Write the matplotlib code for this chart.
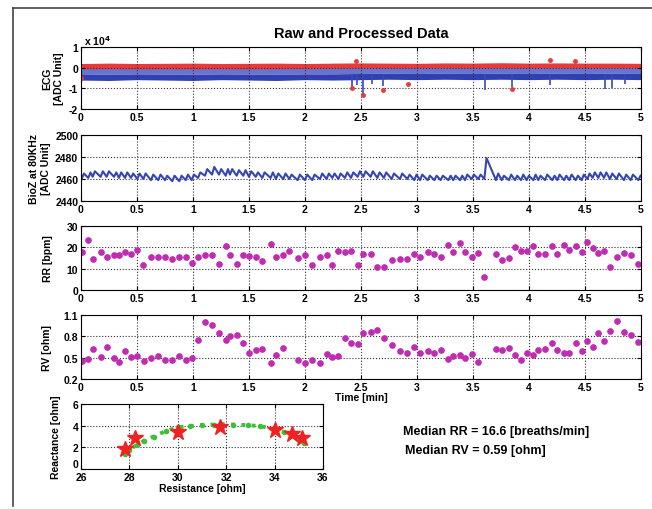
import numpy as np
import matplotlib
matplotlib.use('Agg')
import matplotlib.pyplot as plt
from matplotlib.lines import Line2D

plt.rcParams['font.family'] = ['Liberation Sans', 'DejaVu Sans']
plt.rcParams['font.weight'] = 'bold'

# ECG envelopes (x 10^4), read every 0.25 min
ecg_t = [0, 0.25, 0.5, 0.75, 1.0, 1.25, 1.5, 1.75, 2.0, 2.25, 2.5,
         2.75, 3.0, 3.25, 3.5, 3.75, 4.0, 4.25, 4.5, 4.75, 5.0]
blue_hi = [0.05, 0.06, 0.05, 0.05, 0.06, 0.05, 0.05, 0.06, 0.05, 0.06, 0.07,
           0.06, 0.06, 0.07, 0.06, 0.07, 0.06, 0.07, 0.06, 0.07, 0.06]
blue_mid = [-0.30, -0.32, -0.30, -0.31, -0.32, -0.30, -0.31, -0.32, -0.30, -0.30, -0.28,
            -0.27, -0.28, -0.27, -0.28, -0.27, -0.28, -0.27, -0.28, -0.27, -0.28]
blue_lo = [-0.60, -0.62, -0.58, -0.60, -0.62, -0.58, -0.60, -0.62, -0.58, -0.60, -0.58,
           -0.56, -0.58, -0.56, -0.58, -0.56, -0.58, -0.56, -0.58, -0.56, -0.58]
red_hi = [0.20, 0.22, 0.20, 0.21, 0.22, 0.20, 0.21, 0.22, 0.20, 0.22, 0.23,
          0.22, 0.21, 0.23, 0.22, 0.24, 0.22, 0.23, 0.22, 0.22, 0.21]
red_lo = [-0.06, -0.05, -0.06, -0.05, -0.06, -0.05, -0.06, -0.05, -0.04, -0.03, -0.01,
          -0.01, -0.01, 0.0, -0.01, 0.0, -0.01, 0.0, -0.01, 0.0, -0.01]
spike_t = [2.42, 2.46, 2.52, 2.60, 2.70, 3.61, 3.85, 4.19, 4.68, 4.74, 4.86]
spike_v = [-0.95, -0.85, -1.30, -0.80, -0.90, -1.10, -0.95, -0.85, -1.05, -1.00, -0.80]
red_pt_t = [0.0, 2.42, 2.455, 2.52, 2.70, 2.92, 3.85, 4.19, 4.41]
red_pt_v = [-0.50, -1.00, 0.30, -1.30, -1.08, -0.77, -1.05, 0.38, 0.30]

# breath times (min) and RR (bpm)
rr_t = [0.006, 0.065, 0.104, 0.175, 0.229, 0.295, 0.339, 0.393, 0.446, 0.503,
        0.557, 0.625, 0.690, 0.750, 0.815, 0.878, 0.935, 0.988, 1.045, 1.107,
        1.170, 1.232, 1.292, 1.330, 1.390, 1.449, 1.500, 1.560, 1.619, 1.693,
        1.741, 1.806, 1.860, 1.934, 2.000, 2.065, 2.134, 2.193,
        2.244, 2.298, 2.357, 2.411, 2.470, 2.521, 2.586, 2.646, 2.705, 2.774,
        2.848, 2.914, 2.976, 3.027, 3.095, 3.155, 3.211, 3.280, 3.324, 3.384,
        3.429, 3.488, 3.548, 3.601, 3.705, 3.756, 3.821, 3.875, 3.929, 3.979,
        4.039, 4.083, 4.143, 4.208, 4.253, 4.313, 4.360, 4.417, 4.470, 4.521,
        4.568, 4.619, 4.670, 4.723, 4.783, 4.848, 4.908, 4.976]
rr = [17.6, 23.6, 14.5, 17.6, 15.4, 16.2, 16.5, 18.0, 16.9, 18.9,
      11.5, 15.7, 15.7, 15.7, 14.5, 15.7, 15.3, 12.6, 15.7, 16.5,
      16.5, 12.3, 20.8, 16.5, 12.3, 16.5, 16.0, 15.4, 13.4, 21.6,
      15.7, 16.5, 18.4, 15.0, 16.2, 11.5, 15.7, 16.2,
      11.5, 18.1, 17.8, 18.4, 11.8, 16.9, 16.9, 10.7, 10.6, 13.9,
      14.5, 14.6, 16.9, 15.4, 17.6, 16.9, 15.4, 21.3, 17.6, 22.0,
      17.8, 15.4, 17.3, 6.3, 17.0, 13.9, 15.0, 20.0, 18.4, 18.1,
      20.5, 16.9, 16.9, 20.5, 16.9, 21.3, 18.9, 20.8, 17.6, 22.4,
      19.7, 17.3, 18.4, 11.0, 15.4, 17.3, 16.5, 12.1]

# BioZ trough / peak per breath (ADC)
bioz_lo = [2460, 2461, 2462, 2462, 2462, 2462, 2461, 2461, 2461, 2460,
           2460, 2459, 2459, 2459, 2458, 2458, 2459, 2459, 2461,
           2463, 2464, 2464, 2463, 2464, 2463, 2463, 2462, 2462,
           2461, 2461, 2460, 2460, 2460, 2459, 2459, 2459, 2460, 2460,
           2461, 2460, 2461, 2461, 2462, 2462, 2462, 2461, 2461, 2460,
           2460, 2460, 2459, 2459, 2459, 2459, 2459, 2459, 2459, 2459, 2459, 2460, 2460,
           2460,
           2459, 2459, 2459, 2459, 2459, 2459, 2459, 2459, 2459, 2459, 2459, 2459, 2459, 2459,
           2459, 2460, 2461, 2461, 2461, 2460, 2460, 2459, 2459, 2459]
bioz_hi = [2465, 2466, 2467, 2467, 2467, 2466, 2466, 2466, 2465, 2465,
           2465, 2464, 2464, 2463, 2463, 2463, 2464, 2464, 2466,
           2469, 2471, 2469, 2469, 2469, 2468, 2468, 2467, 2466,
           2466, 2466, 2465, 2465, 2464, 2464, 2464, 2464, 2465, 2465,
           2465, 2465, 2466, 2466, 2467, 2467, 2467, 2466, 2466, 2465,
           2465, 2464, 2464, 2464, 2463, 2463, 2463, 2463, 2463, 2463, 2464, 2464, 2464,
           2479,
           2465, 2463, 2464, 2463, 2464, 2463, 2464, 2463, 2464, 2463, 2464, 2463, 2464, 2463,
           2464, 2465, 2466, 2466, 2466, 2465, 2465, 2464, 2464, 2463]

# RV (ohm)
rv_t = [0.006, 0.065, 0.104, 0.175, 0.229, 0.295, 0.339, 0.393, 0.446, 0.503,
        0.563, 0.625, 0.690, 0.750, 0.815, 0.878, 0.935, 0.988, 1.045, 1.107,
        1.170, 1.232, 1.292, 1.330, 1.396, 1.449, 1.500, 1.560, 1.619, 1.693,
        1.741, 1.806, 1.934, 2.000, 2.065, 2.134, 2.193,
        2.244, 2.298, 2.357, 2.411, 2.470, 2.521, 2.586, 2.646, 2.705, 2.774,
        2.848, 2.914, 2.976, 3.027, 3.095, 3.155, 3.211, 3.280, 3.324, 3.384,
        3.429, 3.488, 3.548, 3.705, 3.756, 3.821, 3.875, 3.929, 3.979, 4.039,
        4.083, 4.143, 4.208, 4.253, 4.313, 4.360, 4.417, 4.470, 4.521, 4.568,
        4.619, 4.670, 4.723, 4.783, 4.848, 4.908, 4.976]
rv = [0.46, 0.48, 0.62, 0.51, 0.65, 0.50, 0.44, 0.59, 0.51, 0.53,
      0.45, 0.49, 0.53, 0.47, 0.47, 0.52, 0.47, 0.50, 0.75, 1.00,
      0.96, 0.84, 0.75, 0.81, 0.82, 0.70, 0.56, 0.61, 0.62, 0.42,
      0.54, 0.63, 0.47, 0.42, 0.47, 0.42, 0.55,
      0.51, 0.53, 0.77, 0.70, 0.69, 0.84, 0.86, 0.89, 0.77, 0.68,
      0.59, 0.57, 0.65, 0.57, 0.59, 0.56, 0.61, 0.48, 0.53, 0.54,
      0.50, 0.55, 0.44, 0.62, 0.61, 0.64, 0.54, 0.47, 0.56, 0.54,
      0.61, 0.62, 0.70, 0.61, 0.57, 0.57, 0.71, 0.59, 0.74, 0.65,
      0.84, 0.74, 0.87, 1.01, 0.86, 0.82, 0.72]

# reactance vs resistance
fit_r = [27.8, 28.0, 28.3, 28.6, 29.0, 29.5, 30.0, 30.5, 31.0, 31.5, 31.8,
         32.3, 32.9, 33.4, 34.0, 34.4, 34.7, 35.0, 35.2]
fit_x = [1.4, 1.8, 2.2, 2.6, 3.0, 3.5, 3.85, 3.95, 4.05, 4.1, 4.15,
         4.1, 4.05, 3.95, 3.7, 3.4, 3.1, 2.7, 2.4]
star_r = [27.8, 28.22, 30.0, 31.75, 34.0, 34.7, 35.15]
star_x = [1.84, 2.87, 3.4, 3.87, 3.56, 3.19, 2.87]

W, H = 652, 510
fig = plt.figure(figsize=(W / 100, H / 100), dpi=100)


def box(l, t, r, b):
    return [l / W, 1 - b / H, (r - l) / W, (b - t) / H]


def style(ax):
    ax.tick_params(direction='in', length=3, labelsize=7.5, top=True, right=True, pad=2)
    ax.grid(True, linestyle=':', color='#333333', linewidth=0.8)
    for lab in ax.get_xticklabels() + ax.get_yticklabels():
        lab.set_fontweight('bold')
    for s in ax.spines.values():
        s.set_linewidth(0.8)


tt = [0, 0.5, 1, 1.5, 2, 2.5, 3, 3.5, 4, 4.5, 5]
ttl = ['0', '0.5', '1', '1.5', '2', '2.5', '3', '3.5', '4', '4.5', '5']

# ECG
ax1 = fig.add_axes(box(81, 48, 641, 110))
e = 1e4
ax1.fill_between(ecg_t, np.array(blue_mid) * e, np.array(blue_hi) * e, color='#6875d0', lw=0)
ax1.fill_between(ecg_t, np.array(blue_lo) * e, np.array(blue_mid) * e, color='#3040b0', lw=0)
ax1.vlines(spike_t, -0.3 * e, np.array(spike_v) * e, color='#3848c0', lw=1.2)
ax1.fill_between(ecg_t, np.array(red_lo) * e, np.array(red_hi) * e, color='#e83a3a', lw=0)
ax1.plot(red_pt_t, np.array(red_pt_v) * e, 'o', color='#e83a3a', ms=2.5)
ax1.set_xlim(0, 5)
ax1.set_ylim(-2e4, 1e4)
ax1.set_xticks(tt, ttl)
ax1.set_yticks([-2e4, -1e4, 0, 1e4], ['-2', '-1', '0', '1'])
ax1.set_ylabel('ECG\n[ADC Unit]', fontsize=7.5, fontweight='bold', labelpad=4)
ax1.text(0.005, 1.03, r'x 10$^4$', transform=ax1.transAxes, fontsize=7.5, fontweight='bold')
style(ax1)

# BioZ
ax2 = fig.add_axes(box(81, 136, 641, 202))
bx, by = [], []
for t, lo, hi in zip(rr_t, bioz_lo, bioz_hi):
    bx += [t, t + 0.02]
    by += [lo, hi]
ax2.plot(bx, by, color='#3545b5', lw=1.5)
ax2.set_xlim(0, 5)
ax2.set_ylim(2440, 2500)
ax2.set_xticks(tt, ttl)
ax2.set_yticks([2440, 2460, 2480, 2500])
ax2.set_ylabel('BioZ at 80KHz\n[ADC Unit]', fontsize=7.5, fontweight='bold', labelpad=3)
style(ax2)

# RR
ax3 = fig.add_axes(box(81, 227, 641, 291))
ax3.plot(rr_t, rr, 'o', color='#c02cb0', ms=3.8, mec='#c02cb0')
ax3.set_xlim(0, 5)
ax3.set_ylim(0, 30)
ax3.set_xticks(tt, ttl)
ax3.set_yticks([0, 10, 20, 30])
ax3.set_ylabel('RR [bpm]', fontsize=7.5, fontweight='bold', labelpad=10)
style(ax3)

# RV
ax4 = fig.add_axes(box(81, 316, 641, 380))
ax4.plot(rv_t, rv, 'o', color='#c02cb0', ms=3.8, mec='#c02cb0')
ax4.set_xlim(0, 5)
ax4.set_ylim(0.2, 1.1)
ax4.set_xticks(tt, ttl)
ax4.set_yticks([0.2, 0.5, 0.8, 1.1], ['0.2', '0.5', '0.8', '1.1'])
ax4.set_xlabel('Time [min]', fontsize=7.5, fontweight='bold', labelpad=0)
ax4.set_ylabel('RV [ohm]', fontsize=7.5, fontweight='bold', labelpad=8)
style(ax4)

# Reactance vs Resistance
ax5 = fig.add_axes(box(81, 405, 323, 470))
ax5.plot(fit_r, fit_x, ':', color='#3cc03c', lw=2.8, marker='o', ms=3)
ax5.plot(star_r, star_x, '*', color='#ee2222', ms=12, mec='#ee2222')
ax5.set_xlim(26, 36)
ax5.set_ylim(0, 6)
ax5.set_xticks([26, 28, 30, 32, 34, 36])
ax5.set_yticks([0, 2, 4, 6])
ax5.set_xlabel('Resistance [ohm]', fontsize=7.5, fontweight='bold', labelpad=1)
ax5.set_ylabel('Reactance [ohm]', fontsize=7.5, fontweight='bold', labelpad=8)
style(ax5)
ax5.get_yticklabels()[0].set_va('bottom')

fig.text(361 / W, 1 - 34 / H, 'Raw and Processed Data', ha='center', va='center',
         fontsize=10.5, fontweight='bold')
fig.text(403 / W, 1 - 432 / H, 'Median RR = 16.6 [breaths/min]', va='center',
         fontsize=9, fontweight='bold')
fig.text(405 / W, 1 - 451 / H, 'Median RV = 0.59 [ohm]', va='center',
         fontsize=9, fontweight='bold')

# outer frame of the scanned figure
fig.add_artist(Line2D([13 / W, 13 / W], [0.006, 1 - 9 / H], color='#444444', lw=1.2))
fig.add_artist(Line2D([13 / W, 1.0], [1 - 9 / H, 1 - 9 / H], color='#444444', lw=1.2))

fig.savefig('out.png', dpi=100)
